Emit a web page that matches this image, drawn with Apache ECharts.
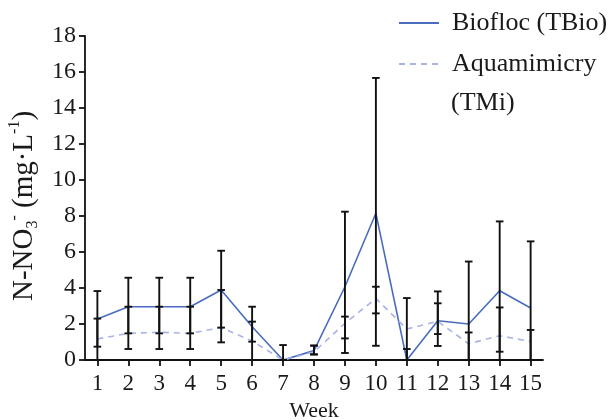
<!DOCTYPE html>
<html>
<head>
<meta charset="utf-8">
<script src="https://cdn.jsdelivr.net/npm/echarts@6/dist/echarts.min.js"></script>
<style>html,body{margin:0;padding:0;background:#fff;}#c{width:609px;height:420px;}</style>
</head>
<body>
<div id="c"></div>
<script>
// Data
const weeks = [1,2,3,4,5,6,7,8,9,10,11,12,13,14,15];
const bioMean  = [2.28, 2.96, 2.96, 2.96, 3.89, 1.85, 0.00, 0.52, 4.07, 8.15, 0.00, 2.18, 2.00, 3.85, 2.89];
const bioLow   = [0.74, 1.48, 1.48, 1.48, 1.80, 1.02, 0.00, 0.31, 1.20, 0.79, 0.00, 0.78, 0.00, 0.00, 0.00];
const bioHigh  = [3.83, 4.57, 4.57, 4.57, 6.07, 2.96, 0.83, 0.80, 8.24, 15.67, 0.61, 3.81, 5.47, 7.70, 6.59];
const aquaMean = [1.17, 1.48, 1.54, 1.48, 1.80, 1.06, 0.00, 0.45, 2.04, 3.42, 1.72, 2.15, 0.90, 1.35, 1.03];
const aquaLow  = [0.00, 0.61, 0.61, 0.61, 0.98, 0.00, 0.00, 0.31, 0.39, 2.59, 0.00, 1.44, 0.00, 0.46, 0.00];
const aquaHigh = [2.30, 2.96, 2.96, 2.96, 3.89, 2.13, 0.00, 0.80, 2.41, 4.07, 3.44, 3.15, 1.53, 2.92, 1.67];
const seriesNames = ['Biofloc (TBio)', 'Aquamimicry'];
const legendExtra = '(TMi)';

const FONT = '"Liberation Serif", "Times New Roman", serif';
const chart = echarts.init(document.getElementById('c'), null, {renderer: 'canvas'});

function errItem(params, api) {
  const x = api.value(0);
  const p1 = api.coord([x, api.value(1)]);
  const p2 = api.coord([x, api.value(2)]);
  const w = 3.8;
  const st = {stroke: '#111', lineWidth: 1.9};
  return {
    type: 'group',
    children: [
      {type: 'line', shape: {x1: p1[0], y1: p1[1], x2: p2[0], y2: p2[1]}, style: st},
      {type: 'line', shape: {x1: p1[0]-w, y1: p1[1], x2: p1[0]+w, y2: p1[1]}, style: st},
      {type: 'line', shape: {x1: p2[0]-w, y1: p2[1], x2: p2[0]+w, y2: p2[1]}, style: st}
    ]
  };
}

chart.setOption({
  animation: false,
  backgroundColor: '#fff',
  grid: {left: 85, right: 66, top: 36, bottom: 60, containLabel: false, outerBoundsMode: 'none'},
  legend: {
    orient: 'vertical', left: 393, top: 5,
    itemWidth: 40, itemHeight: 14, itemGap: 15,
    data: seriesNames,
    itemStyle: {color: 'rgba(0,0,0,0)', borderColor: 'rgba(0,0,0,0)', borderWidth: 0},
    textStyle: {fontSize: 26, fontFamily: FONT, color: '#1a1a1a', padding: [0,0,0,8]}
  },
  graphic: [{
    type: 'text', left: 451, top: 90,
    style: {text: legendExtra, font: '26px ' + FONT, fill: '#1a1a1a'}
  }],
  xAxis: {
    type: 'value', min: 0.6, max: 15.4,
    name: 'Week', nameLocation: 'middle', nameGap: 40,
    nameTextStyle: {fontSize: 22, fontFamily: FONT, color: '#1a1a1a'},
    axisLine: {lineStyle: {color: '#111', width: 1.8}},
    axisTick: {show: true, length: 6, customValues: weeks, lineStyle: {color: '#111', width: 1.8}},
    axisLabel: {customValues: weeks, fontSize: 23, fontFamily: FONT, color: '#1a1a1a', margin: 12},
    splitLine: {show: false}
  },
  yAxis: {
    type: 'value', min: 0, max: 18, interval: 2,
    name: '{n|N-NO}{s|3}{p|-}{n| (mg·L}{p|-1}{n|)}',
    nameLocation: 'middle', nameGap: 42, nameRotate: 90,
    nameTextStyle: {
      fontSize: 29, fontFamily: FONT, color: '#1a1a1a', padding: [0, 16, 0, 0],
      rich: {
        n: {fontSize: 29, fontFamily: FONT, color: '#1a1a1a', lineHeight: 34},
        s: {fontSize: 16, fontFamily: FONT, color: '#1a1a1a', verticalAlign: 'bottom', lineHeight: 34},
        p: {fontSize: 16, fontFamily: FONT, color: '#1a1a1a', verticalAlign: 'top', lineHeight: 34}
      }
    },
    axisLine: {show: true, lineStyle: {color: '#111', width: 1.8}},
    axisTick: {show: true, length: 6, lineStyle: {color: '#111', width: 1.8}},
    axisLabel: {fontSize: 24, fontFamily: FONT, color: '#1a1a1a', margin: 9},
    splitLine: {show: false}
  },
  series: [
    {
      name: seriesNames[0], type: 'line', symbol: 'none',
      data: weeks.map((w, i) => [w, bioMean[i]]),
      itemStyle: {color: '#4a6cbf'},
      lineStyle: {color: '#4a6cbf', width: 1.6},
      z: 2
    },
    {
      name: seriesNames[1], type: 'line', symbol: 'none',
      data: weeks.map((w, i) => [w, aquaMean[i]]),
      itemStyle: {color: '#a9b3e6'},
      lineStyle: {color: '#a9b3e6', width: 1.6, type: [6, 5]},
      z: 2
    },
    {
      type: 'custom', renderItem: errItem, z: 3, silent: true,
      data: weeks.map((w, i) => [w, bioLow[i], bioHigh[i]])
    },
    {
      type: 'custom', renderItem: errItem, z: 3, silent: true,
      data: weeks.map((w, i) => [w, aquaLow[i], aquaHigh[i]])
    }
  ]
});
</script>
</body>
</html>
